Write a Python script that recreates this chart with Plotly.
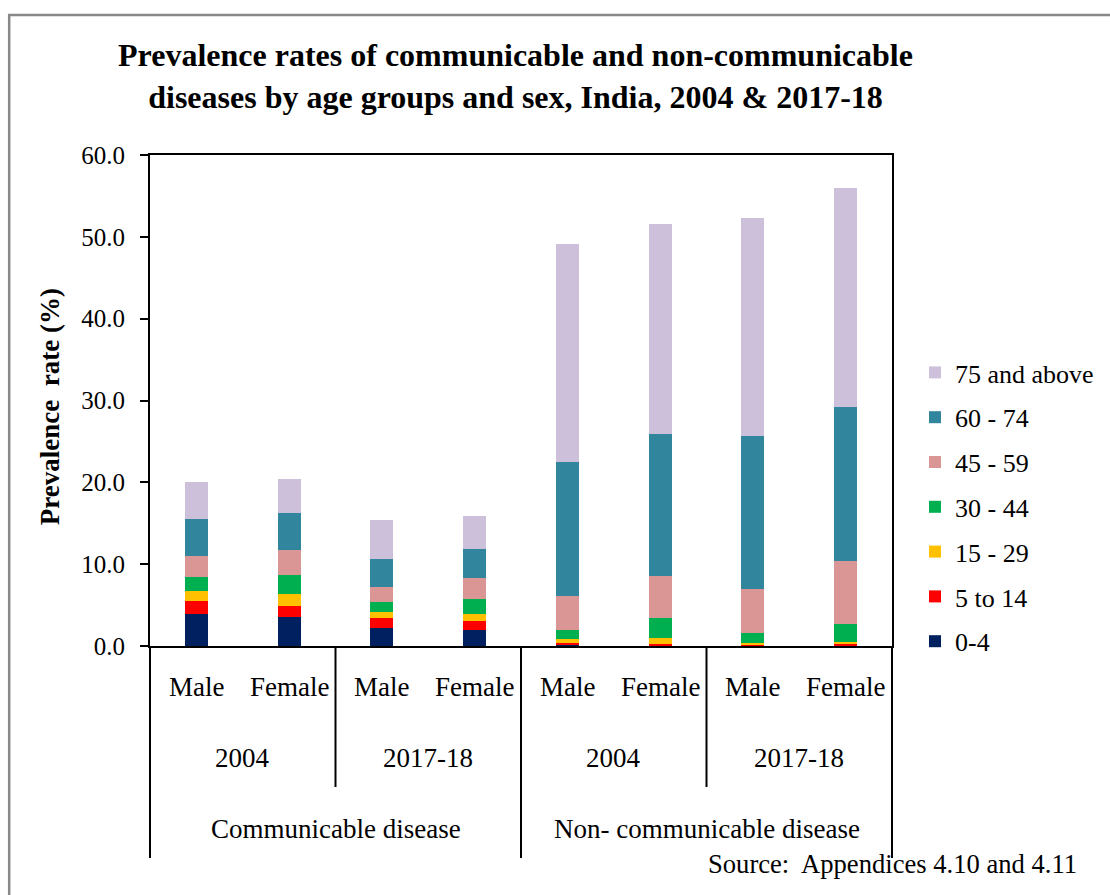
import plotly.graph_objects as go

# Category levels for each bar (innermost first)
sex = ["Male", "Female", "Male", "Female", "Male", "Female", "Male", "Female"]
year = ["2004", "2004", "2017-18", "2017-18", "2004", "2004", "2017-18", "2017-18"]
disease = ["Communicable disease"] * 4 + ["Non- communicable disease"] * 4

year_groups = ["2004", "2017-18", "2004", "2017-18"]
disease_groups = ["Communicable disease", "Non- communicable disease"]

# Prevalence rate (%) contributed by each age group
age_groups = ["0-4", "5 to 14", "15 - 29", "30 - 44", "45 - 59", "60 - 74", "75 and above"]
age_0_4 = [3.9, 3.6, 2.2, 2.0, 0.1, 0.05, 0.05, 0.05]
age_5_14 = [1.6, 1.3, 1.2, 1.0, 0.3, 0.25, 0.1, 0.15]
age_15_29 = [1.2, 1.5, 0.8, 0.9, 0.45, 0.7, 0.2, 0.3]
age_30_44 = [1.7, 2.25, 1.15, 1.9, 1.15, 2.4, 1.2, 2.25]
age_45_59 = [2.6, 3.1, 1.85, 2.5, 4.15, 5.15, 5.4, 7.65]
age_60_74 = [4.5, 4.45, 3.4, 3.6, 16.35, 17.3, 18.7, 18.8]
age_75_plus = [4.5, 4.2, 4.8, 4.0, 26.6, 25.7, 26.6, 26.8]

colors = ["#002060", "#FF0000", "#FFC000", "#00B050", "#DA9694", "#31859C", "#CCC0DA"]
series = [age_0_4, age_5_14, age_15_29, age_30_44, age_45_59, age_60_74, age_75_plus]

FONT = "Liberation Serif, Times New Roman, serif"

# unique key for each bar on the categorical axis
keys = [f"{d}|{y}|{s}" for d, y, s in zip(disease, year, sex)]

fig = go.Figure()
n_groups = len(age_groups)
for i, (name, vals, col) in enumerate(zip(age_groups, series, colors)):
    # stacked youngest at the bottom; legend lists oldest first
    fig.add_trace(go.Bar(
        x=keys, y=vals, name=name, legendgroup=name, legendrank=n_groups - i,
        marker=dict(color=col, line=dict(width=0)),
    ))

W, H = 1110, 895
L, R, T, B = 150, 893, 155, 646


def py(pix):
    """vertical pixel -> paper coordinate"""
    return (B - pix) / (B - T)


def px(pix):
    """horizontal pixel -> paper coordinate"""
    return (pix - L) / (R - L)


LABEL = dict(family=FONT, size=27, color="black")

annotations = []
# innermost level: sex
for k, s in zip(keys, sex):
    annotations.append(dict(x=k, xref="x", y=py(687), yref="paper", text=s,
                            showarrow=False, xanchor="center", yanchor="middle",
                            font=LABEL))
# middle level: survey year
for i, yg in enumerate(year_groups):
    annotations.append(dict(x=(i + 0.5) / 4, xref="paper", y=py(758), yref="paper",
                            text=yg, showarrow=False, xanchor="center",
                            yanchor="middle", font=LABEL))
# outer level: disease type
for i, dg in enumerate(disease_groups):
    annotations.append(dict(x=(i + 0.5) / 2, xref="paper", y=py(829), yref="paper",
                            text=dg, showarrow=False, xanchor="center",
                            yanchor="middle", font=LABEL))
annotations.append(dict(x=px(1080), xref="paper", y=py(864), yref="paper",
                        text="Source:\u00a0 Appendices 4.10 and 4.11", showarrow=False,
                        xanchor="right", yanchor="middle",
                        font=dict(family=FONT, size=26.6, color="black")))
# value-axis title
annotations.append(dict(x=px(50), xref="paper", y=py(407), yref="paper",
                        text="Prevalence\u00a0 rate (%)", textangle=-90,
                        showarrow=False, xanchor="center", yanchor="middle",
                        font=dict(family=FONT, size=27, color="black", weight="bold")))

shapes = []
line = dict(color="black", width=2)
# group dividers below the axis
for xb in [0, 0.5, 1]:
    shapes.append(dict(type="line", xref="paper", yref="paper", x0=xb, x1=xb,
                       y0=0, y1=py(858), line=line))
for xb in [0.25, 0.75]:
    shapes.append(dict(type="line", xref="paper", yref="paper", x0=xb, x1=xb,
                       y0=0, y1=py(787), line=line))
# outer chart border
shapes.append(dict(type="rect", xref="paper", yref="paper",
                   x0=px(9), x1=px(1130), y0=py(15), y1=py(920),
                   line=dict(color="#888888", width=2.5)))

fig.update_layout(
    width=W, height=H,
    margin=dict(l=L, r=W - R, t=T, b=H - B),
    paper_bgcolor="white", plot_bgcolor="white",
    barmode="stack", bargap=0.75,
    font=dict(family=FONT, size=25, color="black"),
    title=dict(
        text="Prevalence rates of communicable and non-communicable<br>"
             "diseases by age groups and sex, India, 2004 & 2017-18",
        xref="paper", x=px(516), xanchor="center", y=1 - 66 / H, yanchor="top",
        font=dict(family=FONT, size=32, color="black", weight="bold"),
    ),
    xaxis=dict(showticklabels=False, ticks="", showline=True, linecolor="black",
               linewidth=2, mirror=True, showgrid=False, range=[-0.5, 7.5]),
    yaxis=dict(range=[0, 60], dtick=10, tickformat=".1f", ticks="outside",
               ticklen=8, tickwidth=2, tickcolor="black", showline=True,
               linecolor="black", linewidth=2, mirror=True, showgrid=False,
               zeroline=False, ticklabelstandoff=10,
               tickfont=dict(family=FONT, size=25, color="black")),
    legend=dict(x=px(915), xanchor="left", y=py(349), yanchor="top",
                traceorder="grouped", tracegroupgap=8,
                font=dict(family=FONT, size=26, color="black"),
                bgcolor="rgba(0,0,0,0)"),
    annotations=annotations,
    shapes=shapes,
)

fig.write_html("out.html")
